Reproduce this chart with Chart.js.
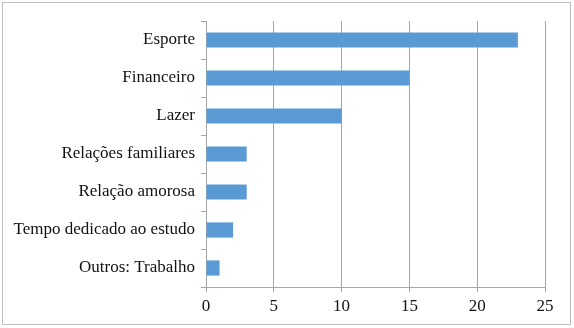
<!DOCTYPE html>
<html><head><meta charset="utf-8">
<script src="https://cdn.jsdelivr.net/npm/chart.js@4/dist/chart.umd.min.js"></script>
<style>html,body{margin:0;padding:0;background:#fff}#wrap{width:574px;height:328px;position:relative}</style>
</head><body><div id="wrap"><canvas id="c" width="574" height="328"></canvas></div>
<script>
const categories = ["Esporte","Financeiro","Lazer","Relações familiares","Relação amorosa","Tempo dedicado ao estudo","Outros: Trabalho"];
const values = [23,15,10,3,3,2,1];
const xTicks = [0,5,10,15,20,25];

const borderPlugin = {
  id:'outerBorder',
  beforeDraw(chart){
    const ctx = chart.ctx;
    ctx.save();
    ctx.fillStyle='#fff';
    ctx.fillRect(0,0,chart.width,chart.height);
    ctx.strokeStyle='#bfbfbf';
    ctx.lineWidth=1;
    ctx.strokeRect(2.5,2.5,568,322);
    ctx.restore();
  }
};

new Chart(document.getElementById('c'),{
  type:'bar',
  data:{labels:categories,datasets:[{data:values,backgroundColor:'#5B9BD5',borderWidth:0,barPercentage:0.4,categoryPercentage:1}]},
  options:{
    indexAxis:'y',responsive:false,animation:false,devicePixelRatio:1,
    layout:{padding:{left:0,top:21,right:29,bottom:0}},
    plugins:{legend:{display:false},tooltip:{enabled:false}},
    scales:{
      x:{min:0,max:25,
        afterBuildTicks(s){s.ticks=xTicks.map(v=>({value:v}));},
        afterFit(s){s.height=41;},
        grid:{color:'#a6a6a6',lineWidth:1,tickLength:5,drawTicks:true},
        border:{display:true,color:'#a6a6a6'},
        ticks:{color:'#111',font:{family:'"Liberation Serif"',size:17},padding:4}
      },
      y:{
        afterFit(s){s.width=206;},
        grid:{offset:true,drawOnChartArea:false,color:'#a6a6a6',tickLength:5},
        border:{display:true,color:'#a6a6a6'},
        ticks:{color:'#111',font:{family:'"Liberation Serif"',size:17},padding:6}
      }
    }
  },
  plugins:[borderPlugin]
});
</script></body></html>
